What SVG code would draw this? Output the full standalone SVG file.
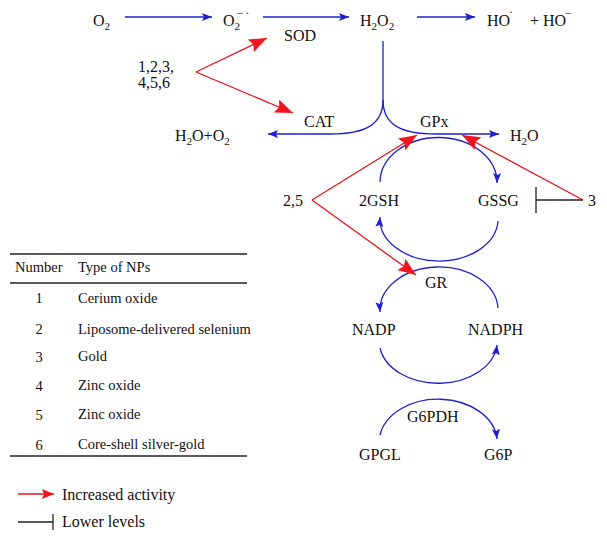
<svg xmlns="http://www.w3.org/2000/svg" width="607" height="538" viewBox="0 0 607 538">
<style>
text{font-family:"Liberation Serif","Times New Roman",serif;font-size:16px;fill:#111}
.sub{font-size:11px}
.sup{font-size:12px}
.tb{font-size:14.5px}
.lg{font-size:16px}
.b{fill:none;stroke:#1f1fd0;stroke-width:1.3}
.r{fill:none;stroke:#e8141c;stroke-width:1.3}
.k{fill:none;stroke:#222;stroke-width:1.3}
</style>
<defs>
<marker id="ab" markerUnits="userSpaceOnUse" viewBox="0 0 10 8" refX="10" refY="4" markerWidth="10" markerHeight="8" orient="auto">
<path d="M0,0 L10,4 L0,8 L2,4 z" fill="#1f1fd0"/>
</marker>
<marker id="ar" markerUnits="userSpaceOnUse" viewBox="0 0 18 14" refX="18" refY="7" markerWidth="18" markerHeight="14" orient="auto">
<path d="M0,0 L18,7 L0,14 L3,7 z" fill="#f0141c"/>
</marker>
<marker id="ars" markerUnits="userSpaceOnUse" viewBox="0 0 12 10" refX="12" refY="5" markerWidth="12" markerHeight="10" orient="auto">
<path d="M0,0 L12,5 L0,10 L2,5 z" fill="#f0141c"/>
</marker>
</defs>

<g id="connectors">
<line class="b" x1="125" y1="17" x2="212" y2="17" marker-end="url(#ab)"/>
<line class="b" x1="263" y1="17" x2="349" y2="17" marker-end="url(#ab)"/>
<line class="b" x1="417" y1="17" x2="475" y2="17" marker-end="url(#ab)"/>
<path class="b" d="M383,41 L383,100 C383,125 365,134 330,134 L268,134" marker-end="url(#ab)"/>
<path class="b" d="M383,100 C383,125 401,134 436,134 L499,134" marker-end="url(#ab)"/>
<path class="b" d="M380,182 A58.5,45 0 0 1 497,183" marker-end="url(#ab)"/>
<path class="b" d="M498,221 A59,42 0 0 1 380,217" marker-end="url(#ab)"/>
<path class="b" d="M498,308 A59,43 0 0 0 380,312" marker-end="url(#ab)"/>
<path class="b" d="M380,348 A59,42 0 0 0 497,345" marker-end="url(#ab)"/>
<path class="b" d="M380,435 A59,43 0 0 1 497,439" marker-end="url(#ab)"/>
<line class="r" x1="196" y1="72" x2="267" y2="38" marker-end="url(#ar)"/>
<line class="r" x1="196" y1="72" x2="293" y2="113" marker-end="url(#ar)"/>
<line class="r" x1="312" y1="200" x2="417" y2="135" marker-end="url(#ar)"/>
<line class="r" x1="312" y1="200" x2="416" y2="275" marker-end="url(#ar)"/>
<line class="r" x1="583" y1="200" x2="462" y2="135" marker-end="url(#ar)"/>
<line class="k" x1="583" y1="200" x2="536" y2="200"/>
<line class="k" x1="536" y1="187" x2="536" y2="213"/>
</g>

<g id="O2"><text x="93" y="26">O<tspan class="sub" dy="4">2</tspan></text></g>
<g id="superoxide"><text x="223" y="26">O<tspan class="sub" dy="4">2</tspan></text><text class="sup" x="237" y="17">−</text><text class="sup" x="245.5" y="17">·</text></g>
<g id="H2O2"><text x="360" y="26">H<tspan class="sub" dy="4">2</tspan><tspan dy="-4">O</tspan><tspan class="sub" dy="4">2</tspan></text></g>
<g id="radicals"><text x="487" y="26">HO</text><text class="sup" x="509" y="16">·</text><text x="530" y="26">+ HO</text><text class="sup" x="565" y="17">−</text></g>
<g id="SOD"><text x="284" y="41">SOD</text></g>
<g id="NP1-6"><text x="138" y="72">1,2,3,</text><text x="138" y="88">4,5,6</text></g>
<g id="CAT"><text x="304" y="127">CAT</text></g>
<g id="GPx"><text x="420" y="127">GPx</text></g>
<g id="H2O_O2"><text x="175" y="141">H<tspan class="sub" dy="4">2</tspan><tspan dy="-4">O+O</tspan><tspan class="sub" dy="4">2</tspan></text></g>
<g id="H2O"><text x="510" y="141">H<tspan class="sub" dy="4">2</tspan><tspan dy="-4">O</tspan></text></g>
<g id="NP25"><text x="283" y="206">2,5</text></g>
<g id="GSH"><text x="359" y="206">2GSH</text></g>
<g id="GSSG"><text x="478" y="206">GSSG</text></g>
<g id="NP3"><text x="588" y="206">3</text></g>
<g id="GR"><text x="425" y="288">GR</text></g>
<g id="NADP"><text x="352" y="335">NADP</text></g>
<g id="NADPH"><text x="468" y="335">NADPH</text></g>
<g id="G6PDH"><text x="407" y="422">G6PDH</text></g>
<g id="GPGL"><text x="359" y="460">GPGL</text></g>
<g id="G6P"><text x="484" y="460">G6P</text></g>

<g id="table">
<line class="k" x1="10" y1="254" x2="247" y2="254"/>
<line class="k" x1="10" y1="283" x2="247" y2="283"/>
<line class="k" x1="10" y1="456" x2="247" y2="456"/>
<text class="tb" x="15" y="272">Number</text>
<text class="tb" x="78" y="272">Type of NPs</text>
<text class="tb" x="39" y="303" text-anchor="middle">1</text><text class="tb" x="78" y="303">Cerium oxide</text>
<text class="tb" x="39" y="334" text-anchor="middle">2</text><text class="tb" x="78" y="334">Liposome-delivered selenium</text>
<text class="tb" x="39" y="362" text-anchor="middle">3</text><text class="tb" x="78" y="361">Gold</text>
<text class="tb" x="39" y="391" text-anchor="middle">4</text><text class="tb" x="78" y="390">Zinc oxide</text>
<text class="tb" x="39" y="420" text-anchor="middle">5</text><text class="tb" x="78" y="419">Zinc oxide</text>
<text class="tb" x="39" y="450" text-anchor="middle">6</text><text class="tb" x="78" y="449">Core-shell silver-gold</text>
</g>

<g id="legend">
<line class="r" x1="18" y1="494" x2="54" y2="494" marker-end="url(#ars)"/>
<text class="lg" x="62" y="500">Increased activity</text>
<line class="k" x1="18" y1="522" x2="53" y2="522"/>
<line class="k" x1="53" y1="514" x2="53" y2="530"/>
<text class="lg" x="62" y="527">Lower levels</text>
</g>
</svg>
